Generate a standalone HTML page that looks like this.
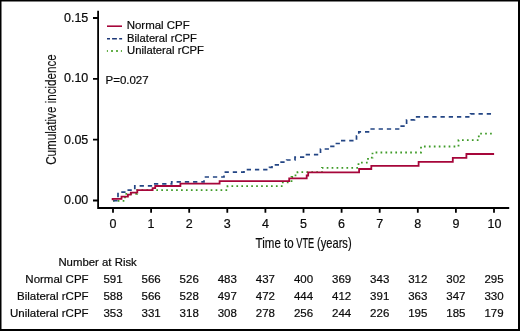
<!DOCTYPE html>
<html><head><meta charset="utf-8"><style>
html,body{margin:0;padding:0;background:#fff;}
body{width:520px;height:331px;overflow:hidden;}
svg{display:block;will-change:transform;}
text{font-family:"Liberation Sans",sans-serif;fill:#0a0a0a;stroke:#0a0a0a;stroke-width:0.2px;}
.t{font-size:11.5px;}
.tk{font-size:12.5px;}
.ax{font-size:15px;stroke:#111;stroke-width:0.15px;fill:#111;}
</style></head><body>
<svg width="520" height="331" viewBox="0 0 520 331">
<rect x="0" y="0" width="520" height="331" fill="#fff"/>
<!-- border -->
<rect x="0.75" y="0.75" width="518.25" height="329.25" fill="none" stroke="#000" stroke-width="1.5"/>
<rect x="518" y="0" width="2" height="331" fill="#000"/>
<rect x="0" y="329" width="520" height="2" fill="#000"/>

<!-- axes -->
<g stroke="#000" stroke-width="1.8" fill="none">
<path d="M98.1,10.8 V208 H509.2"/>
<path d="M93,18 H98 M93,78.8 H98 M93,139.7 H98 M93,200.5 H98"/>
<path d="M113,208.5 V212.7 M151.1,208.5 V212.7 M189.2,208.5 V212.7 M227.3,208.5 V212.7 M265.4,208.5 V212.7 M303.5,208.5 V212.7 M341.6,208.5 V212.7 M379.7,208.5 V212.7 M417.8,208.5 V212.7 M455.9,208.5 V212.7 M494,208.5 V212.7"/>
</g>

<!-- y tick labels -->
<g class="tk" text-anchor="end">
<text x="88.3" y="21.6">0.15</text>
<text x="88.3" y="82.4">0.10</text>
<text x="88.3" y="143.5">0.05</text>
<text x="88.3" y="204.4">0.00</text>
</g>
<!-- x tick labels -->
<g class="tk" text-anchor="middle">
<text x="113" y="227.8">0</text>
<text x="151.1" y="227.8">1</text>
<text x="189.2" y="227.8">2</text>
<text x="227.3" y="227.8">3</text>
<text x="265.4" y="227.8">4</text>
<text x="303.5" y="227.8">5</text>
<text x="341.6" y="227.8">6</text>
<text x="379.7" y="227.8">7</text>
<text x="417.8" y="227.8">8</text>
<text x="455.9" y="227.8">9</text>
<text x="494.5" y="227.8">10</text>
</g>

<!-- axis titles -->
<g class="ax"><text x="255.6" y="248" textLength="25.2" lengthAdjust="spacingAndGlyphs">Time</text><text x="284" y="248" textLength="9.6" lengthAdjust="spacingAndGlyphs">to</text><text x="296.3" y="248" textLength="17.9" lengthAdjust="spacingAndGlyphs">VTE</text><text x="317.1" y="248" textLength="34.5" lengthAdjust="spacingAndGlyphs">(years)</text></g>
<text class="ax" transform="translate(56.3,164.8) rotate(-90)" x="0" y="0" textLength="110.6" lengthAdjust="spacingAndGlyphs">Cumulative incidence</text>

<!-- legend -->
<g stroke-width="1.6" fill="none">
<path d="M107,26.2 H122" stroke="#a6063a"/>
<path d="M107,38.7 H110 M112.1,38.7 H116.9 M119.2,38.7 H122.1" stroke="#1c3776"/>
<path d="M106.9,51 H107.9 M111.1,51 H112.9 M116.1,51 H117.9 M120.9,51 H121.9" stroke="#56a838" stroke-width="1.8"/>
</g>
<g class="t">
<text x="126.7" y="29.4" textLength="63" lengthAdjust="spacingAndGlyphs">Normal CPF</text>
<text x="127.1" y="41.6" textLength="69.7" lengthAdjust="spacingAndGlyphs">Bilateral rCPF</text>
<text x="127.1" y="53.9" textLength="76.9" lengthAdjust="spacingAndGlyphs">Unilateral rCPF</text>
<text x="105.5" y="83.6">P=0.027</text>
</g>

<!-- curves -->
<g fill="none" stroke-linejoin="miter">
<path stroke="#3f9b28" stroke-width="1.8" stroke-dasharray="1.7 3.24" stroke-dashoffset="0.218"
 d="M113,200.9 H125 V193.8 H137 V190.1 H227.5 V186.2 H282.8 V182.3 H291.5 V177 H295.5 V175.3 H297.5 V172.2 H322 V167.8 H358.5 V162.6 H368 V157.7 H372.5 V152.5 H421 V146.5 H458.5 V140.1 H478.8 V133.6 H494"/>
<path stroke="#234584" stroke-width="1.7" stroke-dasharray="4.3 3.92" stroke-dashoffset="7.905"
 d="M113,200.7 H118 V192.2 H126.5 V190.2 H134.8 V185.9 H153 V183.8 H171.7 V181.8 H204 V177 H224 V172.2 H244 V169.7 H269.5 V167.3 H272 V164.8 H280 V162.2 H286.7 V160 H295 V157.2 H305.3 V154.7 H320.5 V149 H329.5 V146.3 H335.2 V143.5 H340.8 V140.7 H356.5 V136 H358.8 V131.8 H370 V129 H400.2 V126.1 H406.6 V119.8 H414.5 V116.9 H470.5 V113.8 H494"/>
<path stroke="#a6063a" stroke-width="1.8"
 d="M112.6,200.3 V198.8 H121.5 V196.7 H127.9 V194.7 H130.8 V192.6 H137.3 V190.2 H152.6 V188.1 H155.2 V186 H180.4 V183.6 H219.6 V181.2 H289.2 V178.3 H306.7 V175.5 H308.2 V172.4 H359.1 V169 H371.3 V165.8 H418.6 V161.9 H452.8 V157.8 H466.4 V154 H494.1"/>
</g>

<!-- risk table -->
<g class="t">
<text x="58.4" y="266.2" textLength="78.4" lengthAdjust="spacingAndGlyphs">Number at Risk</text>
</g>
<g class="t" text-anchor="end">
<text x="88.6" y="282.9">Normal CPF</text>
<text x="88.6" y="300.3">Bilateral rCPF</text>
<text x="88.6" y="317">Unilateral rCPF</text>
</g>
<g class="t" text-anchor="middle">
<text y="282.9"><tspan x="113">591</tspan><tspan x="151.1">566</tspan><tspan x="189.2">526</tspan><tspan x="227.3">483</tspan><tspan x="265.4">437</tspan><tspan x="303.5">400</tspan><tspan x="341.6">369</tspan><tspan x="379.7">343</tspan><tspan x="417.8">312</tspan><tspan x="455.9">302</tspan><tspan x="494">295</tspan></text>
<text y="300.3"><tspan x="113">588</tspan><tspan x="151.1">566</tspan><tspan x="189.2">528</tspan><tspan x="227.3">497</tspan><tspan x="265.4">472</tspan><tspan x="303.5">444</tspan><tspan x="341.6">412</tspan><tspan x="379.7">391</tspan><tspan x="417.8">363</tspan><tspan x="455.9">347</tspan><tspan x="494">330</tspan></text>
<text y="317"><tspan x="113">353</tspan><tspan x="151.1">331</tspan><tspan x="189.2">318</tspan><tspan x="227.3">308</tspan><tspan x="265.4">278</tspan><tspan x="303.5">256</tspan><tspan x="341.6">244</tspan><tspan x="379.7">226</tspan><tspan x="417.8">195</tspan><tspan x="455.9">185</tspan><tspan x="494">179</tspan></text>
</g>
</svg>
</body></html>
